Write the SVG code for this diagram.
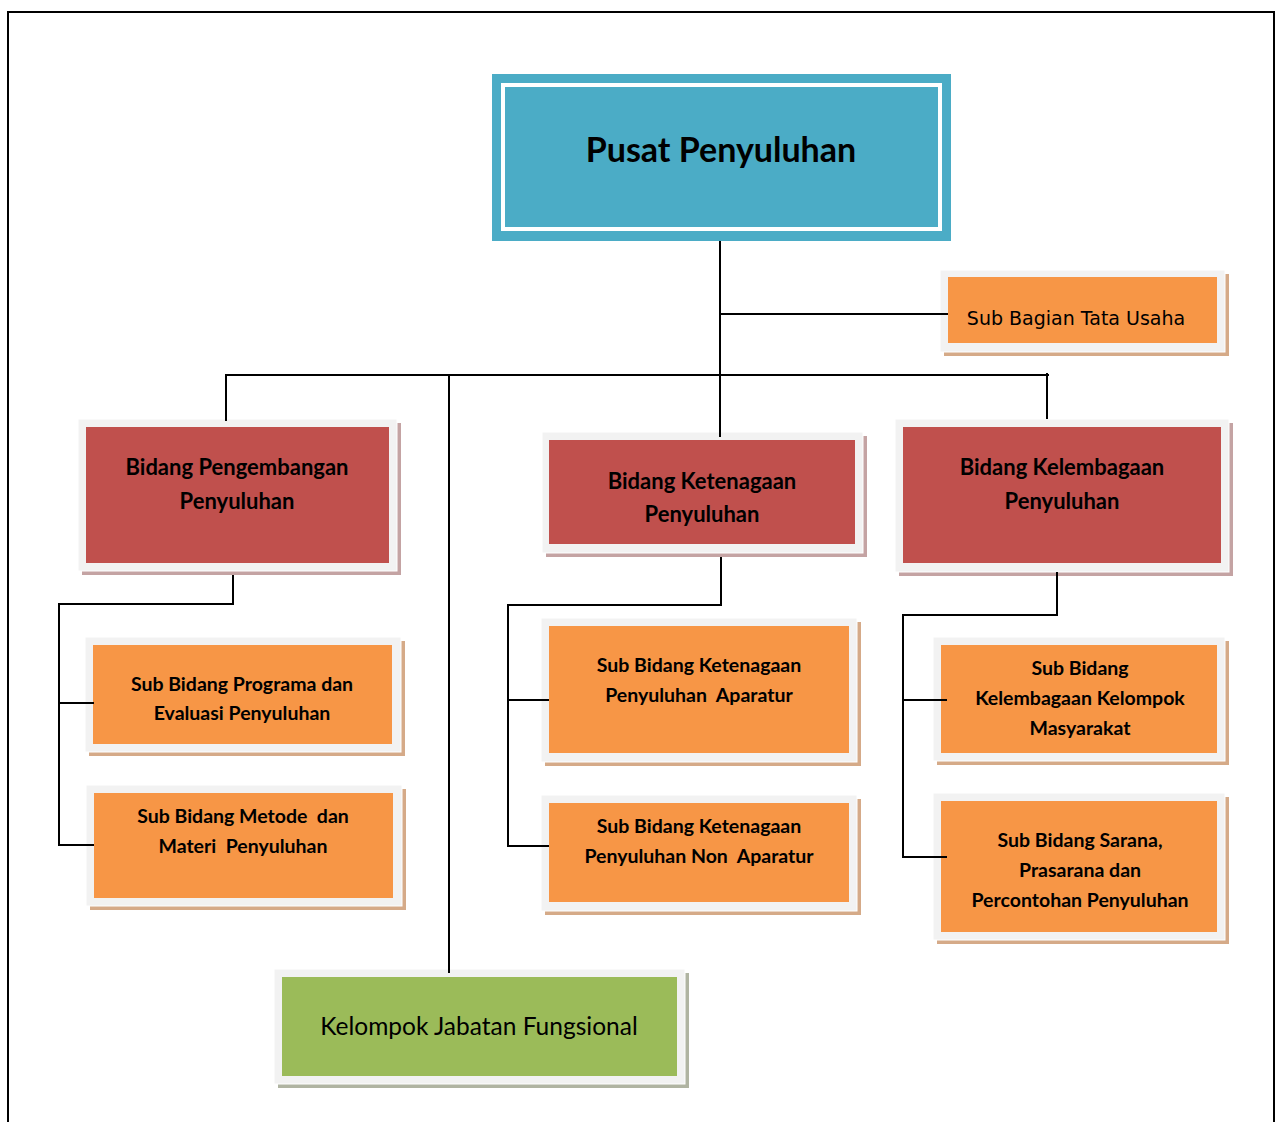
<svg xmlns="http://www.w3.org/2000/svg" width="1277" height="1122" viewBox="0 0 1277 1122">
<style>
.frame{fill:#f2f2f2;stroke:#ffffff;stroke-width:1}
.red{fill:#c0504d}
.org{fill:#f79646}
.grn{fill:#9bbb59}
.shr{fill:#c4a3a3}
.sho{fill:#d5aa88}
.shg{fill:#b0b4a2}
.b{font-family:Lato,"Liberation Sans",sans-serif;font-weight:bold;fill:#000;text-anchor:middle}
.r{font-family:Lato,"Liberation Sans",sans-serif;fill:#000;text-anchor:middle}
.s{font-size:19.5px}
.m{font-size:22px}
.conn{stroke:#000;stroke-width:2;fill:none}
</style>
<rect width="1277" height="1122" fill="#ffffff"/>
<path d="M8 1122 V12 H1274 V1122" fill="none" stroke="#000" stroke-width="2"/>

<g id="pusat">
<rect x="492" y="74" width="459" height="167" fill="#4bacc6"/>
<rect x="503" y="85" width="437" height="144" fill="none" stroke="#ffffff" stroke-width="4"/>
<text x="721" y="162" class="b" font-size="34">Pusat Penyuluhan</text>
</g>

<g id="tata-usaha">
<rect x="944" y="274" width="285" height="82" class="sho"/>
<rect x="940" y="270" width="285" height="82" class="frame"/>
<rect x="948" y="277" width="269" height="66" class="org"/>
<text x="1076" y="325" font-family="'DejaVu Sans',Verdana,sans-serif" font-size="19" text-anchor="middle" fill="#000">Sub Bagian Tata Usaha</text>
</g>

<g id="bidang-pengembangan">
<rect x="82" y="423" width="319" height="152" class="shr"/>
<rect x="78" y="419" width="319" height="152" class="frame"/>
<rect x="86" y="427" width="303" height="136" class="red"/>
<text x="237" y="475" class="b m">Bidang Pengembangan</text>
<text x="237" y="509" class="b m">Penyuluhan</text>
</g>

<g id="bidang-ketenagaan">
<rect x="546" y="436" width="321" height="121" class="shr"/>
<rect x="542" y="432" width="321" height="121" class="frame"/>
<rect x="549" y="440" width="306" height="104" class="red"/>
<text x="702" y="489" class="b m">Bidang Ketenagaan</text>
<text x="702" y="522" class="b m">Penyuluhan</text>
</g>

<g id="bidang-kelembagaan">
<rect x="899" y="423" width="334" height="153" class="shr"/>
<rect x="895" y="419" width="334" height="153" class="frame"/>
<rect x="903" y="427" width="318" height="136" class="red"/>
<text x="1062" y="475" class="b m">Bidang Kelembagaan</text>
<text x="1062" y="509" class="b m">Penyuluhan</text>
</g>

<g id="sub-programa">
<rect x="89" y="641" width="316" height="115" class="sho"/>
<rect x="85" y="637" width="316" height="115" class="frame"/>
<rect x="93" y="645" width="299" height="99" class="org"/>
<text x="242" y="691" class="b s">Sub Bidang Programa dan</text>
<text x="242" y="720" class="b s">Evaluasi Penyuluhan</text>
</g>

<g id="sub-metode">
<rect x="90" y="789" width="316" height="121" class="sho"/>
<rect x="86" y="785" width="316" height="121" class="frame"/>
<rect x="94" y="793" width="299" height="105" class="org"/>
<text x="243" y="823" class="b s" xml:space="preserve">Sub Bidang Metode  dan</text>
<text x="243" y="853" class="b s" xml:space="preserve">Materi  Penyuluhan</text>
</g>

<g id="sub-ketenagaan-aparatur">
<rect x="545" y="622" width="316" height="144" class="sho"/>
<rect x="541" y="618" width="316" height="144" class="frame"/>
<rect x="549" y="626" width="300" height="127" class="org"/>
<text x="699" y="672" class="b s">Sub Bidang Ketenagaan</text>
<text x="699" y="702" class="b s" xml:space="preserve">Penyuluhan  Aparatur</text>
</g>

<g id="sub-ketenagaan-non">
<rect x="545" y="799" width="316" height="116" class="sho"/>
<rect x="541" y="795" width="316" height="116" class="frame"/>
<rect x="549" y="803" width="300" height="99" class="org"/>
<text x="699" y="833" class="b s">Sub Bidang Ketenagaan</text>
<text x="699" y="863" class="b s" xml:space="preserve">Penyuluhan Non  Aparatur</text>
</g>

<g id="sub-kelembagaan-kelompok">
<rect x="937" y="641" width="292" height="124" class="sho"/>
<rect x="933" y="637" width="292" height="124" class="frame"/>
<rect x="941" y="645" width="276" height="108" class="org"/>
<text x="1080" y="675" class="b s">Sub Bidang</text>
<text x="1080" y="705" class="b s">Kelembagaan Kelompok</text>
<text x="1080" y="735" class="b s">Masyarakat</text>
</g>

<g id="sub-sarana">
<rect x="937" y="797" width="292" height="147" class="sho"/>
<rect x="933" y="793" width="292" height="147" class="frame"/>
<rect x="941" y="801" width="276" height="131" class="org"/>
<text x="1080" y="847" class="b s">Sub Bidang Sarana,</text>
<text x="1080" y="877" class="b s">Prasarana dan</text>
<text x="1080" y="907" class="b s">Percontohan Penyuluhan</text>
</g>

<g id="jabatan-fungsional">
<rect x="278" y="973" width="411" height="115" class="shg"/>
<rect x="274" y="969" width="411" height="115" class="frame"/>
<rect x="282" y="977" width="395" height="99" class="grn"/>
<text x="479" y="1035" class="r" font-size="24.5">Kelompok Jabatan Fungsional</text>
</g>

<g id="connectors" class="conn">
<path d="M720 241 V437"/>
<path d="M720 314 H948"/>
<path d="M226 421 V375 H1049"/>
<path d="M449 375 V973"/>
<path d="M1047 373 V419"/>
<path d="M233 575 V604 H59 V845 H94"/>
<path d="M59 703 H94"/>
<path d="M721 557 V605 H508 V846 H549"/>
<path d="M508 700 H549"/>
<path d="M1057 572 V615 H903 V857 H947"/>
<path d="M903 700 H947"/>
</g>
</svg>
